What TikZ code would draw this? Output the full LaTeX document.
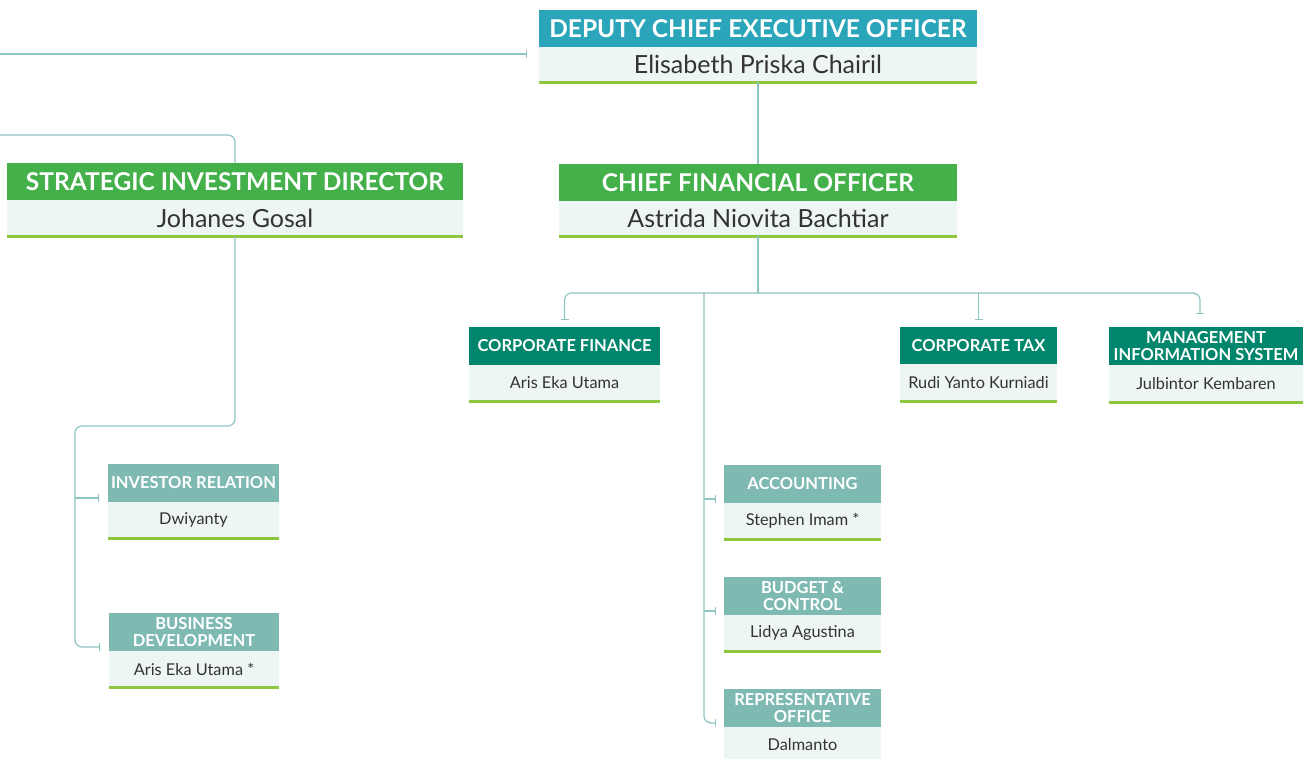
\documentclass[tikz,border=0pt]{standalone}
\usepackage{fontspec}
\setmainfont{Lato}
\usetikzlibrary{arrows.meta}
\usetikzlibrary{positioning}
\usetikzlibrary{calc}

\definecolor{deputyblue}{RGB}{42,165,185}
\definecolor{chiefgreen}{RGB}{67,176,74}
\definecolor{deptgreen}{RGB}{0,134,108}
\definecolor{unitteal}{RGB}{127,186,178}
\definecolor{namefill}{RGB}{237,246,244}
\definecolor{nametext}{RGB}{51,51,51}
\definecolor{underline}{RGB}{141,198,63}
\definecolor{linkcolor}{RGB}{142,197,194}

\newcommand{\bighdfont}{\fontsize{24.5}{27}\bfseries\selectfont}
\newcommand{\bignmfont}{\fontsize{25}{28}\selectfont}
\newcommand{\smallhdfont}{\fontsize{16.5}{16.5}\bfseries\selectfont}
\newcommand{\smallnmfont}{\fontsize{16.3}{18}\selectfont}

\tikzset{
  boxbase/.style={inner sep=0pt, outer sep=0pt, align=center},
  bighead/.style={boxbase, fill=#1, text=white, font=\bighdfont, minimum height=37pt},
  bigname/.style={boxbase, fill=namefill, text=nametext, font=\bignmfont, minimum height=35pt},
  smallhead/.style={boxbase, fill=#1, text=white, font=\smallhdfont, minimum height=38pt},
  smallname/.style={boxbase, fill=namefill, text=nametext, font=\smallnmfont, minimum height=36pt},
  underbar/.style={draw=underline, line width=3pt},
  link/.style={draw=linkcolor, line width=1.2pt, rounded corners=7pt},
  tick/.style={-{Bar[width=8pt]}},
  ticks/.style={{Bar[width=8pt]}-{Bar[width=8pt]}},
}

\begin{document}
\begin{tikzpicture}[x=1pt, y=-1pt]
  \useasboundingbox (0,0) rectangle (1311,758);

  % top level
  \node[bighead=deputyblue, minimum width=438pt] (dceo) at (758,28.5) {DEPUTY CHIEF EXECUTIVE OFFICER};
  \node[bigname, minimum width=438pt, below=0pt of dceo] (dceon) {Elisabeth Priska Chairil};

  % directors
  \node[bighead=chiefgreen, minimum width=456pt] (sid) at (235,181.5) {STRATEGIC INVESTMENT DIRECTOR};
  \node[bigname, minimum width=456pt, minimum height=36pt, below=0pt of sid] (sidn) {Johanes Gosal};
  \node[bighead=chiefgreen, minimum width=398pt] (cfo) at (758,182.5) {CHIEF FINANCIAL OFFICER};
  \node[bigname, minimum width=398pt, below=0pt of cfo] (cfon) {Astrida Niovita Bachtiar};

  % departments under cfo
  \node[smallhead=deptgreen, minimum width=191pt] (cf) at (564.5,346) {CORPORATE FINANCE};
  \node[smallname, minimum width=191pt, below=0pt of cf] (cfn) {Aris Eka Utama};
  \node[smallhead=deptgreen, minimum width=157pt, minimum height=37pt] (ctax) at (978.5,345.5) {CORPORATE TAX};
  \node[smallname, minimum width=157pt, minimum height=37pt, below=0pt of ctax] (ctaxn) {Rudi Yanto Kurniadi};
  \node[smallhead=deptgreen, minimum width=194pt] (mis) at (1206,346) {MANAGEMENT\\INFORMATION SYSTEM};
  \node[smallname, minimum width=194pt, minimum height=37pt, below=0pt of mis] (misn) {Julbintor Kembaren};

  \node[smallhead=unitteal, minimum width=157pt] (acc) at (802.5,484) {ACCOUNTING};
  \node[smallname, minimum width=157pt, below=0pt of acc] (accn) {Stephen Imam *};
  \node[smallhead=unitteal, minimum width=157pt] (bud) at (802.5,596) {BUDGET \&\\CONTROL};
  \node[smallname, minimum width=157pt, below=0pt of bud] (budn) {Lidya Agustina};
  \node[smallhead=unitteal, minimum width=157pt] (rep) at (802.5,708) {REPRESENTATIVE\\OFFICE};
  \node[smallname, minimum width=157pt, below=0pt of rep] (repn) {Dalmanto};

  % units under strategic investment
  \node[smallhead=unitteal, minimum width=171pt] (ir) at (193.5,483) {INVESTOR RELATION};
  \node[smallname, minimum width=171pt, below=0pt of ir] (irn) {Dwiyanty};
  \node[smallhead=unitteal, minimum width=170pt] (bd) at (194,632) {BUSINESS\\DEVELOPMENT};
  \node[smallname, minimum width=170pt, below=0pt of bd] (bdn) {Aris Eka Utama *};

  \foreach \n in {dceon,sidn,cfon,cfn,ctaxn,misn,accn,budn,repn,irn,bdn}
    \draw[underbar] (\n.south west) -- (\n.south east);

  % connectors
  \coordinate (offtop) at (0,54);
  \coordinate (offsid) at (0,135);
  \coordinate (sidbus) at (75,426);
  \coordinate (cfobus) at (758,293);
  \coordinate (accbus) at (704,293);
  \coordinate (irt) at ([xshift=-9pt,yshift=4pt]ir.south west);
  \coordinate (acct) at ([xshift=-8pt,yshift=4pt]acc.south west);
  \coordinate (budt) at ([xshift=-8pt,yshift=4pt]bud.south west);

  \draw[link, tick] (offtop) -- ($(offtop -| dceo.west)+(-12,0)$);
  \draw[link] (dceon.south) -- (cfo.north);
  \draw[link] (offsid) -| (sid.north);

  \draw[link, tick] (sidn.south) |- (sidbus) |- ([xshift=-9pt,yshift=4pt]bd.south west);
  \draw[link, tick] (sidbus |- irt) -- (irt);

  \draw[link] (cfon.south) -- (cfobus);
  \draw[link, ticks] ([yshift=7pt]cf.north) |- (cfobus) -| ([xshift=-6pt,yshift=13pt]mis.north);
  \draw[link, tick] (cfobus -| ctax.north) -- ([yshift=7pt]ctax.north);
  \draw[link, tick] (accbus) |- ([xshift=-8pt,yshift=4pt]rep.south west);
  \draw[link, tick] (accbus |- acct) -- (acct);
  \draw[link, tick] (accbus |- budt) -- (budt);
\end{tikzpicture}
\end{document}
